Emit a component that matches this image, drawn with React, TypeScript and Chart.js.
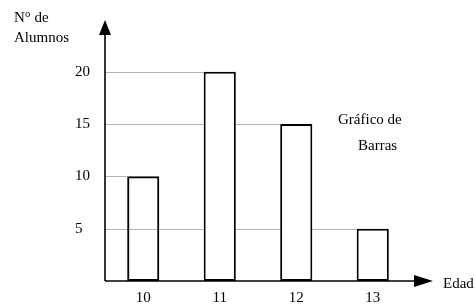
import React, { useEffect, useRef } from "react";
import { Chart, registerables } from "chart.js";

Chart.register(...registerables);

// ---- data ----
const ages = ["10", "11", "12", "13"];
const students = [10, 20, 15, 5];
const yTicks = [5, 10, 15, 20];
const yMax = 23.5;
const yTitleLines = ["N° de", "Alumnos"];
const xTitle = "Edad";
const noteLines = ["Gráfico de", "Barras"];

const FONT = '"Liberation Serif", "Times New Roman", serif';
const FONT_SIZE = 15;

const decor = {
  id: "decor",
  beforeDatasetsDraw(chart: any) {
    const { ctx, chartArea } = chart;
    const yScale = chart.scales.y;
    const meta = chart.getDatasetMeta(0);
    ctx.save();
    ctx.strokeStyle = "#b4b4b4";
    ctx.lineWidth = 1;
    yTicks.forEach((v) => {
      const i = students.indexOf(v);
      const el = i >= 0 ? meta.data[i] : null;
      let end = chartArea.right;
      if (el) {
        const p = el.getProps(["x", "width"], true);
        end = p.x - p.width / 2;
      }
      const py = Math.round(yScale.getPixelForValue(v)) + 0.5;
      ctx.beginPath();
      ctx.moveTo(chartArea.left, py);
      ctx.lineTo(end, py);
      ctx.stroke();
    });
    ctx.restore();
  },
  afterDatasetsDraw(chart: any) {
    const { ctx, chartArea } = chart;
    const { left, right, top, bottom } = chartArea;
    ctx.save();
    ctx.strokeStyle = "#000";
    ctx.fillStyle = "#000";
    ctx.lineWidth = 1.6;
    // y axis
    ctx.beginPath();
    ctx.moveTo(left, bottom);
    ctx.lineTo(left, top);
    ctx.stroke();
    ctx.beginPath();
    ctx.moveTo(left - 6, top);
    ctx.lineTo(left + 6, top);
    ctx.lineTo(left, top - 15);
    ctx.closePath();
    ctx.fill();
    // x axis
    ctx.beginPath();
    ctx.moveTo(left, bottom);
    ctx.lineTo(right + 3, bottom);
    ctx.stroke();
    ctx.beginPath();
    ctx.moveTo(right + 3, bottom - 6);
    ctx.lineTo(right + 3, bottom + 6);
    ctx.lineTo(right + 22, bottom);
    ctx.closePath();
    ctx.fill();
    // texts
    ctx.font = `${FONT_SIZE}px ${FONT}`;
    ctx.textAlign = "left";
    ctx.textBaseline = "alphabetic";
    ctx.fillText(yTitleLines[0], left - 91, top - 13);
    ctx.fillText(yTitleLines[1], left - 91, top + 7);
    ctx.fillText(xTitle, right + 32, bottom + 7);
    ctx.fillText(noteLines[0], right - 73, top + 89);
    ctx.fillText(noteLines[1], right - 53, top + 115);
    ctx.restore();
  },
};

export default function App() {
  const ref = useRef<HTMLCanvasElement | null>(null);

  useEffect(() => {
    if (!ref.current) return;
    const chart = new Chart(ref.current, {
      type: "bar",
      data: {
        labels: ages,
        datasets: [
          {
            data: students,
            backgroundColor: ["rgba(0,0,0,0)", "#ffffff", "#ffffff", "#ffffff"],
            borderColor: "#000000",
            borderWidth: 2,
            borderSkipped: false,
            barPercentage: 0.42,
            categoryPercentage: 1,
          },
        ],
      },
      options: {
        responsive: false,
        animation: false,
        layout: { padding: { left: 75, top: 35, right: 64, bottom: 0 } },
        plugins: {
          legend: { display: false },
          tooltip: { enabled: false },
        },
        scales: {
          x: {
            type: "category",
            offset: true,
            grid: { display: false },
            border: { display: false },
            ticks: {
              color: "#000",
              padding: 0,
              font: { family: FONT, size: FONT_SIZE },
            },
            afterFit: (s: any) => {
              s.height = 25;
            },
          },
          y: {
            min: 0,
            max: yMax,
            grid: { display: false },
            border: { display: false },
            afterBuildTicks: (s: any) => {
              s.ticks = yTicks.map((v) => ({ value: v }));
            },
            ticks: {
              color: "#000",
              padding: 15,
              crossAlign: "far",
              font: { family: FONT, size: FONT_SIZE },
            },
            afterFit: (s: any) => {
              s.width = 30;
            },
          },
        },
      },
      plugins: [decor],
    });
    return () => chart.destroy();
  }, []);

  return (
    <div style={{ position: "absolute", left: 0, top: 0, width: 475, height: 306, background: "#fff" }}>
      <canvas ref={ref} width={475} height={306} />
    </div>
  );
}
